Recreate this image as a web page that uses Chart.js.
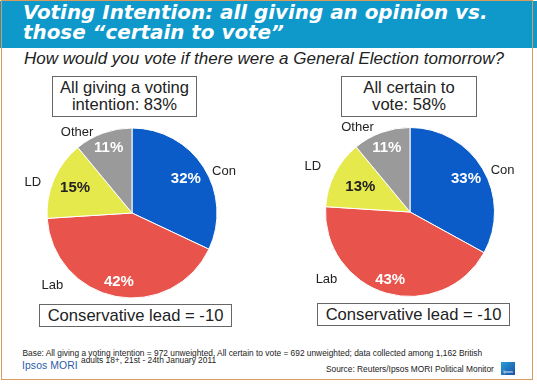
<!DOCTYPE html>
<html>
<head>
<meta charset="utf-8">
<script src="https://cdn.jsdelivr.net/npm/chart.js"></script>
<style>
  body { margin: 0; width: 537px; height: 384px; position: relative; overflow: hidden; background: #fff;
         font-family: "Liberation Sans", Arial, sans-serif; color: #222; }
  .abs { position: absolute; }
  #band { left: 0; top: 1px; width: 537px; height: 47px; background: #0f99cb; }
  #frame { left: 1px; top: 0; width: 530px; height: 378px; border: 1.5px solid #d99a5c; }
  #title { left: 23px; top: 3px; color: #fff; font: italic bold 19.9px/20px "DejaVu Sans"; white-space: nowrap; }
  #sub { left: 24px; top: 49px; font: italic 17px/19px "Liberation Sans"; white-space: nowrap; color: #222; }
  .box { border: 1px solid #666; background: #fff; text-align: center; font-size: 16.6px; line-height: 17px; box-sizing: border-box; }
  canvas { position: absolute; }
  .foot { font-size: 8.35px; line-height: 10px; white-space: nowrap; color: #222; }
  #ipsos { left: 22px; top: 360px; font: 10.4px/12px "Liberation Sans"; color: #2b5ca8; letter-spacing: 0.1px; }
  #logo { left: 501px; top: 362px; width: 14px; height: 13px; background: linear-gradient(135deg, #2a9fd8, #1a4fa8);
          color: #fff; font-size: 4px; text-align: center; line-height: 19px; }
</style>
</head>
<body>
<div id="band" class="abs"></div>
<div id="frame" class="abs"></div>
<div id="title" class="abs">Voting Intention: all giving an opinion vs.<br>those “certain to vote”</div>
<div id="sub" class="abs">How would you vote if there were a General Election tomorrow?</div>

<canvas id="pie1" width="260" height="230" style="left:2px;top:98px"></canvas>
<canvas id="pie2" width="260" height="230" style="left:279.5px;top:97px"></canvas>

<div class="abs box" style="left:52px;top:76px;width:145px;height:41px;padding-top:2px">All giving a voting<br>intention: 83%</div>
<div class="abs box" style="left:341px;top:76px;width:136px;height:41px;padding-top:2px">All certain to<br>vote: 58%</div>
<div class="abs box" style="left:39px;top:304px;width:193px;height:23px;line-height:21px">Conservative lead = -10</div>
<div class="abs box" style="left:317px;top:303px;width:193px;height:23px;line-height:21px">Conservative lead = -10</div>

<div class="abs foot" style="left:22.5px;top:347.5px">Base: All giving a voting intention = 972 unweighted, All certain to vote = 692 unweighted; data collected among 1,162 British</div>
<div class="abs foot" style="left:81px;top:354.5px">adults 18+, 21st - 24th January 2011</div>
<div class="abs foot" style="left:326px;top:364px">Source: Reuters/Ipsos MORI Political Monitor</div>
<div id="ipsos" class="abs">Ipsos MORI</div>
<div id="logo" class="abs">Ipsos</div>

<script>
  const parties = ['Con', 'Lab', 'LD', 'Other'];
  const allGiving = [32, 42, 15, 11];
  const certainToVote = [33, 43, 13, 11];
  const partyColours = ['#0b5cc9', '#e8534b', '#e6e94c', '#9a9a9a'];
  const valueColours = ['#fff', '#fff', '#222', '#fff'];

  // draws the % inside each slice and the party name outside
  function pieLabels(valueR, outside) {
    return {
      id: 'pieLabels',
      afterDatasetsDraw(chart) {
        const ctx = chart.ctx;
        const ds = chart.data.datasets[0];
        chart.getDatasetMeta(0).data.forEach((arc, i) => {
          const p = arc.getProps(['x', 'y', 'startAngle', 'endAngle', 'outerRadius'], true);
          const mid = (p.startAngle + p.endAngle) / 2;
          const r = p.outerRadius;
          ctx.save();
          ctx.textAlign = 'center';
          ctx.textBaseline = 'middle';
          ctx.font = 'bold 15px "Liberation Sans"';
          ctx.fillStyle = valueColours[i];
          ctx.fillText(ds.data[i] + '%', p.x + Math.cos(mid) * r * valueR[i], p.y + Math.sin(mid) * r * valueR[i]);
          const a = (outside[i][0] - 90) * Math.PI / 180;
          ctx.font = '13px "Liberation Sans"';
          ctx.fillStyle = '#222';
          ctx.fillText(chart.data.labels[i], p.x + Math.cos(a) * r * outside[i][1], p.y + Math.sin(a) * r * outside[i][1]);
          ctx.restore();
        });
      }
    };
  }

  function makePie(id, values, radius, valueR, outside) {
    const v = (230 - 2 * (radius + 0.5)) / 2;
    const h = (260 - 2 * (radius + 0.5)) / 2;
    new Chart(document.getElementById(id), {
      type: 'pie',
      data: {
        labels: parties,
        datasets: [{
          data: values,
          backgroundColor: partyColours,
          borderColor: '#fff',
          borderWidth: 1
        }]
      },
      options: {
        responsive: false,
        animation: false,
        layout: { padding: { top: v, bottom: v, left: h, right: h } },
        plugins: { legend: { display: false }, tooltip: { enabled: false } }
      },
      plugins: [pieLabels(valueR, outside)]
    });
  }

  makePie('pie1', allGiving, 85, [0.75, 0.82, 0.73, 0.81], [[65.5, 1.19], [227.6, 1.27], [286.9, 1.22], [325.8, 1.15]]);
  makePie('pie2', certainToVote, 84.5, [0.77, 0.84, 0.66, 0.81], [[66, 1.2], [231.1, 1.27], [295, 1.27], [328.2, 1.18]]);
</script>
</body>
</html>
